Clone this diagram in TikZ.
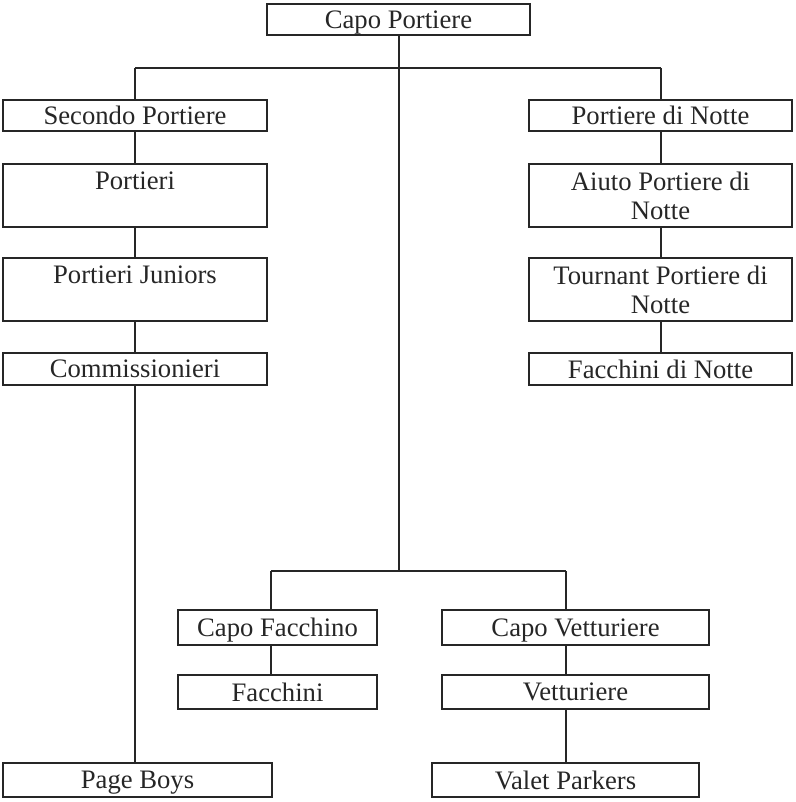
\documentclass[tikz,border=0pt]{standalone}
\usepackage{fontspec}
\setmainfont{Liberation Serif}
\begin{document}
\begin{tikzpicture}[x=.75pt, y=-.75pt, line width=1.5pt, color=black!85,
  ruolo/.style={draw, rectangle, inner sep=0pt, align=center,
    font=\fontsize{20}{22}\selectfont, minimum height=23.5pt,
    text depth=0pt}]
\useasboundingbox (0,0) rectangle (795,802);
% vertici
\node[ruolo, minimum width=197pt] (capo) at (398.5,19.5) {Capo Portiere};
\node[ruolo, minimum width=198pt] (secondo) at (135,115.5) {Secondo Portiere};
\node[ruolo, minimum width=197pt] (notte) at (660.5,115.5) {Portiere di Notte};
\node[ruolo, minimum width=198pt, minimum height=47pt] (portieri) at (135,195.5) {Portieri\\ \mbox{}};
\node[ruolo, minimum width=197pt, minimum height=47pt] (aiuto) at (660.5,195.5) {Aiuto Portiere di\\ Notte};
\node[ruolo, minimum width=198pt, minimum height=47pt] (juniors) at (135,289.5) {Portieri Juniors\\ \mbox{}};
\node[ruolo, minimum width=197pt, minimum height=47pt] (tournant) at (660.5,289.5) {Tournant Portiere di\\ Notte};
\node[ruolo, minimum width=198pt, minimum height=24pt] (comm) at (135,369) {Commissionieri};
\node[ruolo, minimum width=197pt, minimum height=24pt] (facnotte) at (660.5,369) {Facchini di Notte};
% ramo centrale
\node[ruolo, minimum width=149pt, minimum height=26pt] (capofac) at (277.5,627.5) {Capo Facchino};
\node[ruolo, minimum width=200pt, minimum height=26pt] (capovet) at (575.5,627.5) {Capo Vetturiere};
\node[ruolo, minimum width=149pt, minimum height=25pt] (facchini) at (277.5,692) {Facchini};
\node[ruolo, minimum width=200pt, minimum height=25pt] (vetturiere) at (575.5,692) {Vetturiere};
\node[ruolo, minimum width=202pt, minimum height=26pt] (page) at (137.5,780) {Page Boys};
\node[ruolo, minimum width=200pt, minimum height=26pt] (valet) at (565.5,780) {Valet Parkers};
% collegamenti
\coordinate (l1) at (135,68);
\coordinate (r1) at (660.5,68);
\coordinate (l2) at (271,571);
\coordinate (r2) at (566,571);
\draw (capo.south) -- (capo.south |- l2);
\draw (l1) -- (r1);
\draw (l2) -- (r2);
\draw (l1) -- (secondo.north);
\draw (r1) -- (notte.north);
\draw (secondo) -- (portieri) -- (juniors) -- (comm);
\draw (notte) -- (aiuto) -- (tournant) -- (facnotte);
\draw (comm.south) -- (comm.south |- page.north);
\draw (l2) -- (l2 |- capofac.north);
\draw (r2) -- (r2 |- capovet.north);
\draw (l2 |- capofac.south) -- (l2 |- facchini.north);
\draw (r2 |- capovet.south) -- (r2 |- vetturiere.north);
\draw (r2 |- vetturiere.south) -- (r2 |- valet.north);
\end{tikzpicture}
\end{document}
